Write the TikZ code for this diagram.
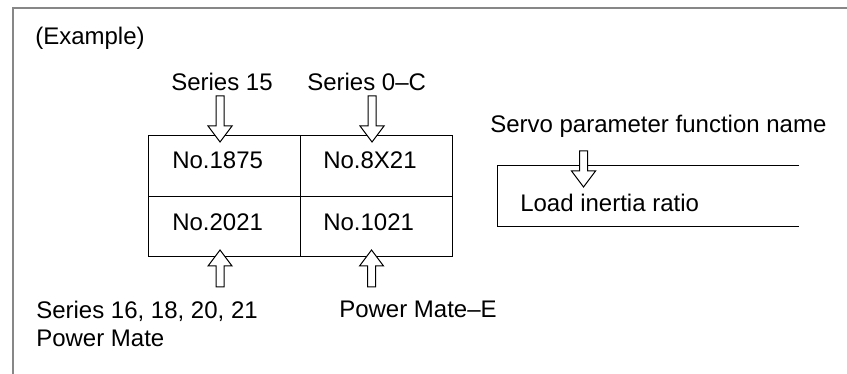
\documentclass[tikz,border=0pt]{standalone}
\usepackage{fontspec}
\setmainfont{Liberation Sans}
\definecolor{framegray}{RGB}{135,135,135}
\begin{document}
\begin{tikzpicture}[x=0.75pt,y=-0.75pt,
  lbl/.style={anchor=base west,inner sep=0pt,font=\fontsize{18}{21}\selectfont},
  cell/.style={draw,line width=0.75pt,minimum width=152*0.75pt,minimum height=60.5*0.75pt,inner sep=0pt},
  hollowline/.style={draw,fill=white,line width=0.75pt,line join=miter},
  pics/hollow/.style={code={\path[hollowline] (-4,-#1) -- (4,-#1) -- (4,-16) -- (12,-16) -- (0,0) -- (-12,-16) -- (-4,-16) -- cycle;}}]
\useasboundingbox (0,0) rectangle (847,374);
% frame
\draw[framegray,line width=1.5pt] (12.5,374) -- (12.5,8.5) -- (847,8.5);
\node[lbl] (ex) at (35,45) {(Example)};
% table
\node[cell] (c11) at (224,166.25) {};
\node[cell] (c12) at (376,166.25) {};
\node[cell] (c21) at (224,226.75) {};
\node[cell] (c22) at (376,226.75) {};
\node[lbl] (t11) at (172,168.5) {No.1875};
\node[lbl] (t12) at (323,168.5) {No.8X21};
\node[lbl] (t21) at (172,231) {No.2021};
\node[lbl] (t22) at (323,231) {No.1021};
% labels
\node[lbl] (s15) at (171,91) {Series 15};
\node[lbl] (s0c) at (307,91) {Series 0--C};
\node[lbl] (s16) at (36,319) {Series 16, 18, 20, 21};
\node[lbl] (pm) at (36,346) {Power Mate};
\node[lbl] (pme) at (339,317) {Power Mate--E};
% arrows
\pic (a1) at (220,142) {hollow=46};
\pic (a2) at (372,142) {hollow=46};
\pic[rotate=180] (a3) at (220,250) {hollow=37};
\pic[rotate=180] (a4) at (371.5,250) {hollow=37};
% servo box
\node[lbl] (spf) at (490,133) {Servo parameter function name};
\coordinate (bt) at (799,166);
\coordinate (bb) at (799,227);
\draw[line width=0.75pt] (bt) -- (497,166) -- (497,227) -- (bb);
\node[lbl] (lir) at (520,212) {Load inertia ratio};
\pic (a5) at (583.5,187) {hollow=36};
\end{tikzpicture}
\end{document}
